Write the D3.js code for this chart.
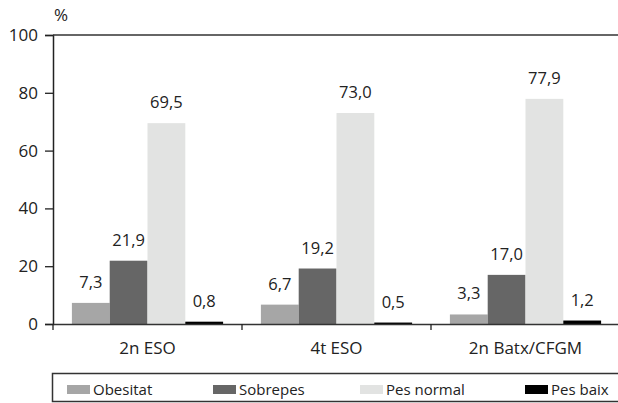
<!DOCTYPE html>
<html><head><meta charset="utf-8">
<script src="https://cdn.jsdelivr.net/npm/d3@7"></script>
<style>body{margin:0;background:#fff}svg{display:block}text{font-family:"Open Sans","Noto Sans",sans-serif;fill:#222}</style>
</head><body><svg id="c" width="618" height="403"></svg>
<script>
const categories = ["2n ESO", "4t ESO", "2n Batx/CFGM"];
const seriesNames = ["Obesitat", "Sobrepes", "Pes normal", "Pes baix"];
const obesitat = [7.3, 6.7, 3.3];
const sobrepes = [21.9, 19.2, 17.0];
const pesNormal = [69.5, 73.0, 77.9];
const pesBaix = [0.8, 0.5, 1.2];
const yTicks = [0, 20, 40, 60, 80, 100];
const colors = ["#a6a6a6", "#666666", "#e2e3e2", "#000000"];

(function () {
const seriesValues = [obesitat, sobrepes, pesNormal, pesBaix];
const svg = d3.select("#c");
const mLeft = 53, mRight = 620, mTop = 35, mBottom = 324;
const ff = '"Open Sans","Noto Sans",sans-serif';

const x0 = d3.scaleBand().domain(categories).range([mLeft, mRight]).padding(0);
const x1 = d3.scaleBand().domain(seriesNames).range([0, x0.bandwidth()]).paddingInner(0).paddingOuter(0.5);
const y = d3.scaleLinear().domain([0, 100]).range([mBottom, mTop]);
const fmt = v => v.toFixed(1).replace(".", ",");

// bars
const groups = svg.append("g").selectAll("g").data(categories).join("g")
  .attr("transform", d => `translate(${x0(d)},0)`);
groups.each(function(cat, ci) {
  const g = d3.select(this);
  seriesNames.forEach((s, si) => {
    const v = seriesValues[si][ci];
    g.append("rect").attr("x", x1(s)).attr("width", x1.bandwidth())
      .attr("y", y(v)).attr("height", y(0) - y(v)).attr("fill", colors[si]);
    g.append("text").attr("x", x1(s) + x1.bandwidth() / 2).attr("y", y(v) - 15)
      .attr("text-anchor", "middle").attr("font-size", 16.5).text(fmt(v));
  });
});

// y axis
const yAxis = svg.append("g").attr("transform", `translate(${mLeft},0)`)
  .call(d3.axisLeft(y).tickValues(yTicks).tickSize(8).tickPadding(7));
yAxis.select(".domain").attr("stroke", "#222").attr("stroke-width", 1.5);
yAxis.selectAll(".tick line").attr("stroke", "#222").attr("stroke-width", 1.3);
yAxis.selectAll(".tick text").attr("font-size", 17).attr("fill", "#222").style("font-family", ff);

// top line
svg.append("line").attr("x1", mLeft).attr("x2", mRight).attr("y1", y(100)).attr("y2", y(100))
  .attr("stroke", "#333").attr("stroke-width", 1.5);

// x axis
const xAxis = svg.append("g").attr("transform", `translate(0,${mBottom})`)
  .call(d3.axisBottom(x0).tickSize(0).tickPadding(18));
xAxis.select(".domain").attr("stroke", "#333").attr("stroke-width", 1.5);
xAxis.selectAll(".tick text").attr("font-size", 17).attr("fill", "#222").style("font-family", ff);
svg.append("g").selectAll("line").data(categories).join("line")
  .attr("x1", d => x0(d)).attr("x2", d => x0(d))
  .attr("y1", mBottom).attr("y2", mBottom + 6).attr("stroke", "#222").attr("stroke-width", 1.3);

// % label
svg.append("text").attr("x", 61).attr("y", 21).attr("text-anchor", "middle").attr("font-size", 17).text("%");

// legend
svg.append("rect").attr("x", 52.5).attr("y", 373.5).attr("width", 600).attr("height", 28)
  .attr("fill", "none").attr("stroke", "#333").attr("stroke-width", 1.5);
const legX = [67, 213, 360, 525];
seriesNames.forEach((s, i) => {
  svg.append("rect").attr("x", legX[i]).attr("y", 385).attr("width", 23).attr("height", 9).attr("fill", colors[i]);
  svg.append("text").attr("x", legX[i] + 26).attr("y", 394.5).attr("font-size", 15).text(s);
});
})();
</script></body></html>
